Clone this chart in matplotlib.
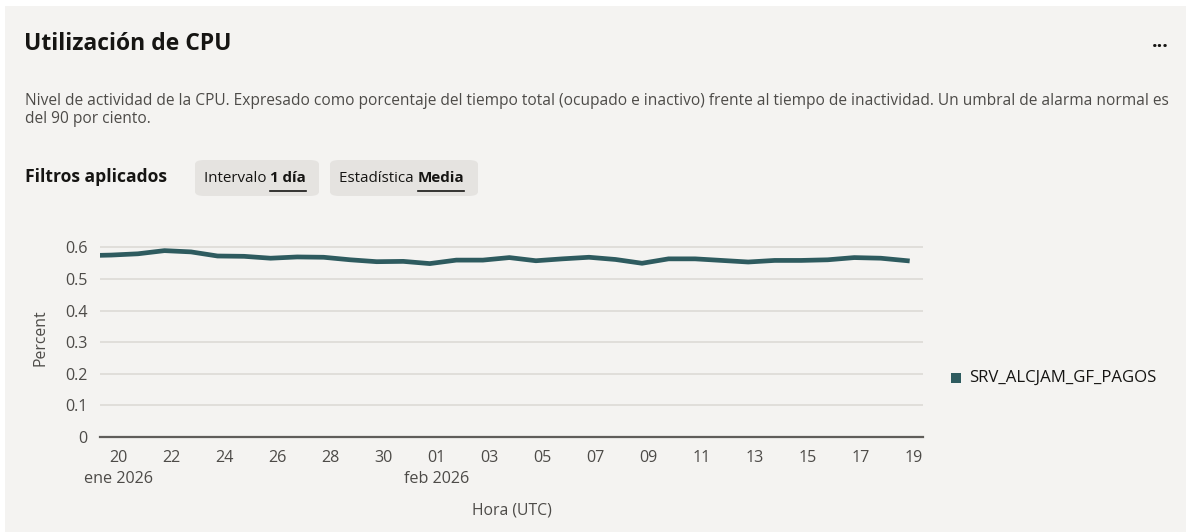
import numpy as np
import matplotlib
matplotlib.use("Agg")
import matplotlib.pyplot as plt
import matplotlib.dates as mdates
from matplotlib.patches import Rectangle, FancyBboxPatch
from datetime import datetime, timedelta

plt.rcParams['font.family'] = ['Open Sans', 'DejaVu Sans']

# datos: media diaria de CPU (un punto por dia, 18:00 UTC)
start = datetime(2026, 1, 18, 18, 0)
cpu = [0.574, 0.576, 0.580, 0.590, 0.586, 0.573, 0.572, 0.566, 0.570, 0.569,
       0.561, 0.555, 0.556, 0.549, 0.560, 0.560, 0.568, 0.558, 0.564, 0.569,
       0.562, 0.550, 0.564, 0.564, 0.559, 0.554, 0.559, 0.559, 0.561, 0.568,
       0.566, 0.558]
dates = [start + timedelta(days=i) for i in range(len(cpu))]

tick_dates = [datetime(2026, 1, d) for d in range(20, 32, 2)] + \
             [datetime(2026, 2, d) for d in range(1, 20, 2)]
tick_labels = ['20\nene 2026', '22', '24', '26', '28', '30', '01\nfeb 2026',
               '03', '05', '07', '09', '11', '13', '15', '17', '19']
y_ticks = [0, 0.1, 0.2, 0.3, 0.4, 0.5, 0.6]
y_labels = ['0', '0.1', '0.2', '0.3', '0.4', '0.5', '0.6']
serie = 'SRV_ALCJAM_GF_PAGOS'

W, H = 1186, 532
bg = '#f4f3f1'
line_col = '#2e5b5f'
txt = '#161513'
gray = '#4d4b48'

fig = plt.figure(figsize=(W / 100, H / 100), dpi=100, facecolor=bg)

def fx(x):
    return x / W

def fy(y):
    return 1 - y / H

# borde blanco arriba y a la izquierda
fig.patches.append(Rectangle((0, fy(6)), 1, 6 / H, transform=fig.transFigure,
                             facecolor='white', edgecolor='none'))
fig.patches.append(Rectangle((0, 0), fx(5), 1, transform=fig.transFigure,
                             facecolor='white', edgecolor='none'))

fig.text(fx(24), fy(44), 'Utilización de CPU', fontsize=16.5, fontweight='bold',
         color=txt, va='center', ha='left')
fig.text(fx(1160), fy(42), '...', fontsize=14, fontweight='bold', color=txt,
         va='center', ha='center')
fig.text(fx(25), fy(101), 'Nivel de actividad de la CPU. Expresado como porcentaje del tiempo total '
         '(ocupado e inactivo) frente al tiempo de inactividad. Un umbral de alarma normal es',
         fontsize=11.2, color=gray, va='center', ha='left')
fig.text(fx(25), fy(119), 'del 90 por ciento.', fontsize=11.2, color=gray, va='center', ha='left')

fig.text(fx(25), fy(177), 'Filtros aplicados', fontsize=12.6, fontweight='bold',
         color=txt, va='center', ha='left')

# chips de filtros
chips = [(195, 319, 'Intervalo ', '1 día'), (330, 478, 'Estadística ', 'Media')]
fig.canvas.draw()
r = fig.canvas.get_renderer()
for x0, x1, a, b in chips:
    fig.patches.append(FancyBboxPatch((fx(x0), fy(196)), fx(x1 - x0), (196 - 160) / H,
                                      boxstyle='round,pad=0,rounding_size=0.008',
                                      transform=fig.transFigure, facecolor='#e5e3e0',
                                      edgecolor='none'))
    t1 = fig.text(fx(x0 + 9), fy(178), a, fontsize=10.9, color=txt, va='center', ha='left')
    bb = t1.get_window_extent(r)
    t2 = fig.text(bb.x1 / W, fy(178), b, fontsize=10.9, fontweight='bold', color=txt,
                  va='center', ha='left')
    bb2 = t2.get_window_extent(r)
    fig.lines.append(plt.Line2D([bb2.x0 / W, bb2.x1 / W], [fy(191), fy(191)],
                                transform=fig.transFigure, color=txt, lw=1.2))

# grafico
ax = fig.add_axes([fx(100), fy(437), fx(923 - 100), (437 - 238) / H])
ax.set_facecolor(bg)
ax.plot(dates, cpu, color=line_col, lw=3.4, solid_joinstyle='round', zorder=3)
ax.set_xlim(datetime(2026, 1, 19, 7, 40), datetime(2026, 2, 19, 8, 10))
ax.set_ylim(0, 0.63)
ax.set_yticks(y_ticks, y_labels)
ax.set_xticks(mdates.date2num(tick_dates), tick_labels)
for lab in ax.get_xticklabels():
    lab.set_horizontalalignment('center')
    lab.set_linespacing(1.45)
ax.grid(axis='y', color='#dcdad6', lw=1.2)
ax.set_axisbelow(True)
for s in ['top', 'right', 'left']:
    ax.spines[s].set_visible(False)
ax.spines['bottom'].set_color('#5f5d5a')
ax.spines['bottom'].set_linewidth(1.6)
ax.spines['bottom'].set_zorder(4)
ax.tick_params(axis='both', length=0, labelsize=11.6, labelcolor=gray)
ax.tick_params(axis='y', pad=9)
ax.tick_params(axis='x', pad=9)
ax.set_ylabel('Percent', fontsize=11.3, color=gray, labelpad=12)
ax.set_xlabel('Hora (UTC)', fontsize=11.3, color=gray, labelpad=11)

# leyenda
fig.patches.append(Rectangle((fx(951), fy(383)), fx(10), 10 / H, transform=fig.transFigure,
                             facecolor=line_col, edgecolor='none'))
fig.text(fx(969), fy(378), serie, fontsize=12.1, color=txt, va='center', ha='left')

fig.savefig('out.png', dpi=100, facecolor=bg)
